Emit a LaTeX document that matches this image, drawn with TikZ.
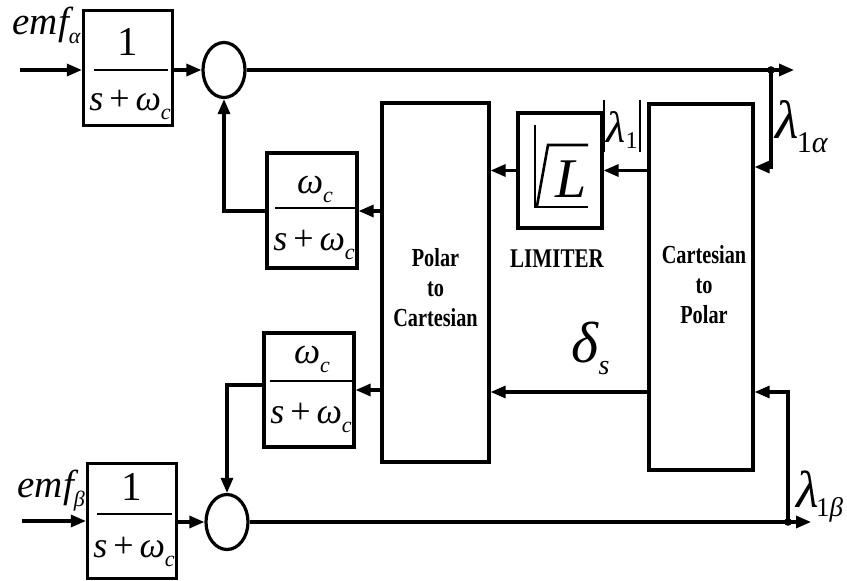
\documentclass[tikz,border=0pt]{standalone}
\usepackage{fontspec}
\setmainfont{Liberation Serif}
\newfontfamily\cond[FakeStretch=0.78]{Liberation Serif}
\usetikzlibrary{arrows.meta,shapes.geometric}
\newcommand\fs[1]{\fontsize{#1}{#1}\selectfont}
\newcommand\wsub{{\itshape ω}\lower9pt\hbox{\fs{22}\itshape c}}
\newcommand\den{{\itshape s}\,+\,\wsub}
\begin{document}
\begin{tikzpicture}[x=1pt,y=-1pt,line width=3.2pt,
  blk/.style={draw,rectangle,inner sep=0pt},
  sumc/.style={draw,ellipse,inner sep=0pt,minimum width=42pt,minimum height=55pt},
  arr/.style={-{Triangle[length=15pt,width=12pt]}},
  fracline/.style={line width=1.8pt},
  lbl/.style={inner sep=0pt},
  blocktext/.style={align=center,inner sep=0pt,font={\fontsize{26}{30}\selectfont\cond\bfseries}}]
\useasboundingbox (0,0) rectangle (847,581);
% blocks
\node[blk,minimum width=89pt,minimum height=115pt] (A1) at (128,68) {};
\node[blk,minimum width=89pt,minimum height=115pt] (B1) at (132,521) {};
\node[sumc] (SA) at (224,70) {};
\node[sumc] (SB) at (227,522) {};
\node[blk,minimum width=90pt,minimum height=115pt] (FA) at (312,210.5) {};
\node[blk,minimum width=90pt,minimum height=114pt] (FB) at (309,390) {};
\node[blk,minimum width=107pt,minimum height=359pt] (P) at (435.5,282.5) {};
\node[blk,minimum width=84pt,minimum height=115pt] (L) at (560,170.5) {};
\node[blk,minimum width=104pt,minimum height=366pt] (C) at (701,287) {};
% fraction lines
\draw[fracline] (94,70) -- (168,70);
\draw[fracline] (97,514) -- (172,514);
\draw[fracline] (275,208) -- (355,208);
\draw[fracline] (270,381) -- (352,381);
% fractions
\node[lbl,anchor=base] (na) at (128,55) {\fs{41}1};
\node[lbl,anchor=base] (da) at (130,110) {\fs{36}\den};
\node[lbl,anchor=base] (nb) at (132,500) {\fs{41}1};
\node[lbl,anchor=base] (db) at (134,557) {\fs{36}\den};
\node[lbl,anchor=base] (nfa) at (315,193) {\fs{37}\wsub};
\node[lbl,anchor=base] (dfa) at (314,250) {\fs{36}\den};
\node[lbl,anchor=base] (nfb) at (312,363) {\fs{37}\wsub};
\node[lbl,anchor=base] (dfb) at (311,423) {\fs{36}\den};
% limiter symbol
\draw[line width=2.6pt] (535,125) -- (535,207) -- (588,207);
\draw[line width=2.6pt] (537,206) -- (548,145) -- (588,145);
\node[lbl,anchor=base] (Lsym) at (571,197) {\fs{56}\itshape L};
% texts
\node[blocktext] (Ptext) at (435.5,288) {Polar\\to\\Cartesian};
\node[blocktext] (Ctext) at (704,285) {Cartesian\\to\\Polar};
\node[lbl] (limtext) at (557,259) {\fs{27}\cond\bfseries LIMITER};
\node[lbl,anchor=base west] (emfa) at (11,34) {\fs{39}\itshape emf\lower9pt\hbox{\fs{22}α}};
\node[lbl,anchor=base west] (emfb) at (16,497) {\fs{39}\itshape emf\lower9pt\hbox{\fs{22}β}};
\node[lbl,anchor=base west] (lama) at (774,138) {\fs{54}\itshape λ\kern-2pt\lower14pt\hbox{\fs{30}\upshape 1\itshape α}};
\node[lbl,anchor=base west] (lamb) at (795,507) {\fs{52}\itshape λ\kern-3pt\lower9pt\hbox{\fs{27}\upshape 1\itshape β}};
\node[lbl,anchor=base] (absl) at (622,142) {\rule[-10pt]{2pt}{52pt}\kern1.5pt\fs{44}{\itshape λ}\lower6pt\hbox{\fs{24}1}\kern1.5pt\rule[-10pt]{2pt}{52pt}};
\node[lbl,anchor=base west] (delta) at (570,362) {\fs{58}\itshape δ\lower12pt\hbox{\fs{28}s}};
% connectors top
\coordinate (ina) at (20,70);
\coordinate (ja) at (771,70);
\coordinate (outa) at (794,70);
\coordinate (ca) at (771,167);
\coordinate (fa) at (382,211);
\draw[arr] (ina) -- (ina -| A1.west);
\draw[arr] (SA -| A1.east) -- (SA.west);
\draw (SA.east) -- (ja);
\draw[arr] (ja) -- (outa);
\fill (ja) circle (3.8pt);
\draw[arr] (ja) -- (ca) -- (ca -| C.east);
\draw[arr] (C.west |- L) -- (L.east);
\draw[arr] (L.west) -- (L.west -| P.east);
\draw[arr] (P.west |- fa) -- (fa -| FA.east);
\draw[arr] (FA.west |- fa) -- (fa -| SA) -- (SA.south);
% connectors bottom
\coordinate (inb) at (22,521);
\coordinate (jb) at (788,522);
\coordinate (outb) at (811,522);
\coordinate (cb) at (788,392);
\coordinate (fb) at (382,390);
\coordinate (fbo) at (264,385);
\draw[arr] (inb) -- (inb -| B1.west);
\draw[arr] (SB -| B1.east) -- (SB.west);
\draw (SB.east) -- (jb);
\draw[arr] (jb) -- (outb);
\fill (jb) circle (3.8pt);
\draw[arr] (jb) -- (cb) -- (cb -| C.east);
\draw[arr] (C.west |- cb) -- (cb -| P.east);
\draw[arr] (P.west |- fb) -- (fb -| FB.east);
\draw[arr] (fbo -| FB.west) -- (fbo -| SB) -- (SB.north);
\end{tikzpicture}
\end{document}
